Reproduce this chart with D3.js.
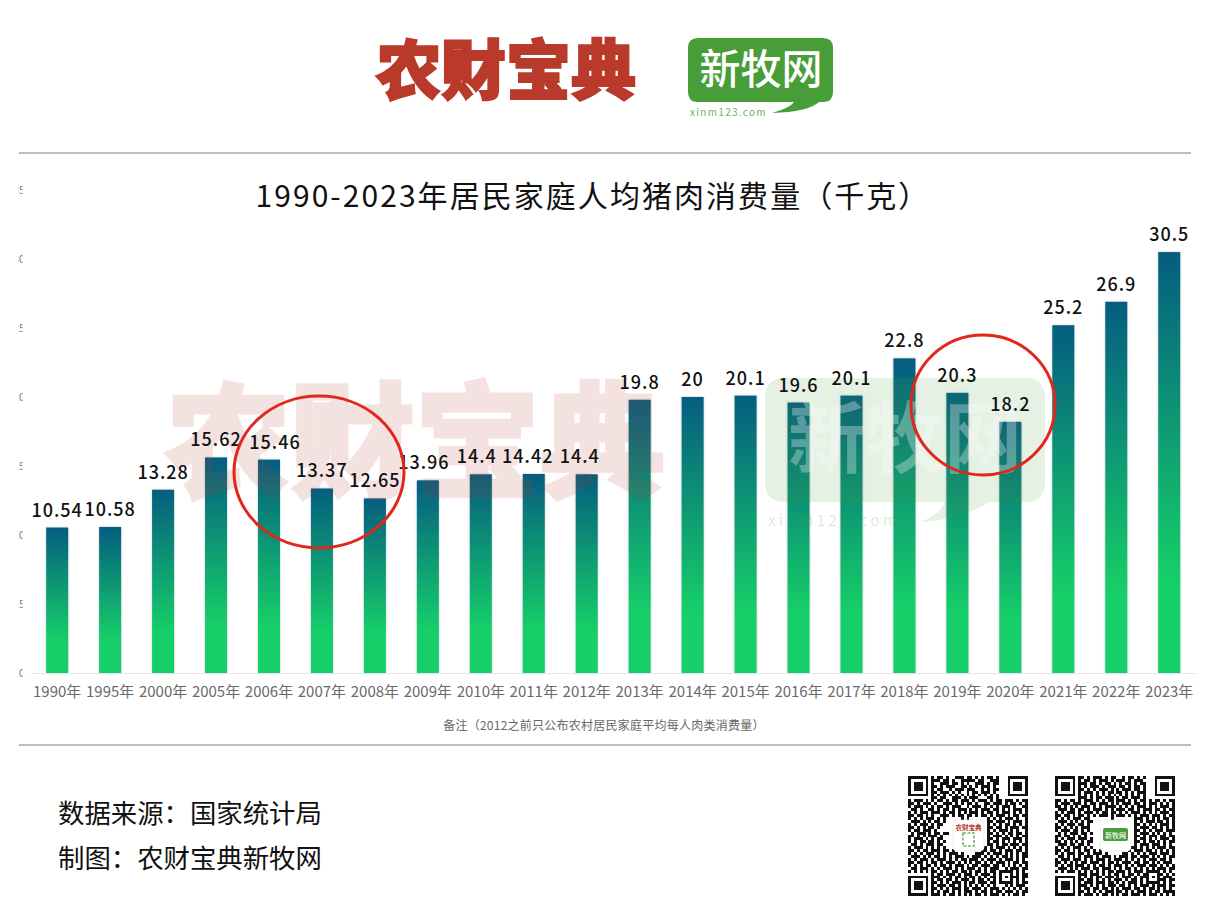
<!DOCTYPE html>
<html lang="zh">
<head>
<meta charset="utf-8">
<title>1990-2023年居民家庭人均猪肉消费量</title>
<script src="https://cdn.jsdelivr.net/npm/d3@7"></script>
<style>
    body { margin: 0; background: #fff; }
    svg { display: block; }
    text { font-family: "Noto Sans CJK SC", sans-serif; }
</style>
</head>
<body>
<svg id="svg"></svg>
<script>
let years = ["1990年", "1995年", "2000年", "2005年", "2006年", "2007年", "2008年", "2009年", "2010年", "2011年", "2012年",
    "2013年", "2014年", "2015年", "2016年", "2017年", "2018年", "2019年", "2020年", "2021年", "2022年", "2023年"];
let porkKg = [10.54, 10.58, 13.28, 15.62, 15.46, 13.37, 12.65, 13.96, 14.4, 14.42, 14.4,
    19.8, 20, 20.1, 19.6, 20.1, 22.8, 20.3, 18.2, 25.2, 26.9, 30.5];
let yTicks = [0, 5, 10, 15, 20, 25, 30, 35];

let chartTitle = "1990-2023年居民家庭人均猪肉消费量（千克）";
let footnote = "备注（2012之前只公布农村居民家庭平均每人肉类消费量）";
let sourceLines = ["数据来源：国家统计局", "制图：农财宝典新牧网"];

// the QR codes (finder squares are drawn on top)
let qrLeft = [
    "........#.##.#..###.##.#.#.##.#..........",
    "........###.##.#..#####.##..###..........",
    "........#..###.##.#.#..###.#.##..........",
    "........##.#.###..##.#.#.###.#...........",
    "........#.##..#.###.###..#.#.##..........",
    "........##.###.#.#..#.##.###.#...........",
    "........#.#.#.#.#.#.#.#.#.#.#.#..........",
    "........##.##..###.#.###...##.#..........",
    "#.###.#.#.##.#.##.###.#.###.#.##.###.#.##",
    "##.#.###.#..###.#.#.##.#..##.###.#.##.#.#",
    "#.###.#.#.##.#.###..#.###.#.#.#.###.#..##",
    ".##.#..##.#.##.#.###.#.#.###.##.#.#.###.#",
    "#.#.###.###.#.##.#.#.###.#.##.#.###.#.#.#",
    "##.##.#.#..###.#.##.##.#.##.#.###.#.##.##",
    "#.#.#.###.#.#.....#.#......#.#.#.###.#..#",
    ".###.#.#.##.#.........#....##.###.#.###.#",
    "#.#.###.#.##...........#...#.#.#.##.#.#.#",
    "##.#.#.##.#.............#..##.##.#.###.##",
    "#.##.###.#.................#.#.###.#.#..#",
    ".#.###.#.##.##.............##.#.#.##.##.#",
    "##.#.#.###.#...............#.###.#.#.#.##",
    "#.###.#.#.##...............##.#.###.###.#",
    "#.#.##.##.#.#..............#.##.#.#.#.#.#",
    ".##.#.###.##...............##.#.##.###.##",
    "#.###.#.#.#.#.............#.#.###.#.#.#.#",
    "##.#.##.###.##.#.........##.##.#.###.##.#",
    "#.#.#.###.#.#.###.#....###.#.###.#.#.#.##",
    ".###.#.#.##.#.#.###.#.###.#.#.#.##.#.#.##",
    "#.#.###.#.###.#.#.##.###.#.###.#.###.#.#.",
    "##.##.#.##.#.###.#.#.#.##.#.#.###.#.##.##",
    "#.#.#.##.#.##.#.###.#.##.###.##.#.#.#.#.#",
    ".##.###.#.#.###.#.#.###.#.#.###..#.###.##",
    "#.#.#.#.##.#.#.##.##.#.##.#.##.#####.#.#.",
    "........#.##.###.#.###.#.###.#.#...#.#.##",
    "........###.#.#.##.#.##.#.#.##.#.#.###.##",
    "........#.##.##.#.###.#.##.#.#.#...#.#.#.",
    "........##.#.#.###.#.##.###.##.#####.#.##",
    "........#.###.##.#.#.#.#.#.#.#...#.#.###.",
    "........##.#.#.###.##.###.#.###.#.#.#.#.#",
    "........#.#.##.#.#.###.#.##.#.##.###.#.##",
    "........###.#.##.#.#.#.##.#.###.#.#.##.#."
];
let qrRight = [
    "........##.#.###.#.##..#.##.#.#..........",
    "........#.##.#.###.#.###.#.###...........",
    "........###.##.#.##.#.#.##.#.##..........",
    "........#.#.###.#.###.##.#.##.#..........",
    "........##.#.#.###.#.#.###.##.#..........",
    "........#.###.#.#.##.##.#.#.###..........",
    "........#.#.#.#.#.#.#.#.#.#.#.#..........",
    "........###.#.##.###.#.##.###.#..........",
    "##.#.##.#.###.#.#.##.###.#.#.##.#.##.#.##",
    "#.###.###.#.##.###.#.#.###.##.#.###.#.#.#",
    "##.#.#.#.###.#.#.####.#.#.#.###.#.#.###.#",
    ".###.##.##.#.###.#.#.###.##.#.###.##.#.##",
    "#.#.###.#.###.#.##.##.#.#.###.#.#.#.###.#",
    "##.##.#.##.#.#.###.#.###.#.#.###.###.#.##",
    "#.#.#.###.##.......#.......###.#.#.#.##.#",
    ".###.#.#.#.##..............#.#.###.##.#.#",
    "#.#.###.##.#...............##.#.#.#.###.#",
    "##.#.#.#.###...............#.###.##.#.#.#",
    "#.###.##.#.#...............##.#.#.###.###",
    ".#.#.###.##.#..............#.###.#.#.#.#.",
    "##.##.#.#.#................##.#.###.##.##",
    "#.#.###.###.#..............#.##.#.#.###.#",
    "##.#.#.#.#.##..............##.#.##.#.#.##",
    ".###.##.##.#...............#.###.###.#.#.",
    "#.#.#.###.#.#.............##.#.#.#.###.##",
    "##.##.#.#.##.#.#.........#.###.##.#.#.#.#",
    "#.#.###.##.#.###.#.....##.#.#.#.###.###.#",
    ".##.#.#.#.###.#.###.#.###.##.###.#.#.#.##",
    "#.###.###.#.#.###.#.###.#.#.#.#.###.##.#.",
    "##.#.#.#.##.###.#.##.#.###.##.##.#.#.###.",
    "#.#.##.###.#.#.##.#.###.#.#.###.###.#.#.#",
    ".###.#.#.###.##.###.#.#.##.#.#.#.#.###.##",
    "#.#.###.#.#.#.#.#.##.###.#.###.#####.#.#.",
    "........###.###.#.#.##.#.##.#.##...##.#.#",
    "........#.#.#.##.###.#.###.#.###.#.#.###.",
    "........##.##.#.#.#.###.#.##.#.#...###.##",
    "........#.###.###.##.#.#.###.#.#####.#.#.",
    "........###.#.#.#.###.##.#.#.###.#.###.##",
    "........#.##.##.##.#.#.###.##.#.##.#.#.#.",
    "........##.#.#.#.###.##.#.#.###.#.##.####",
    "........#.###.#.##.#.#.##.###.#.###.#.#.#"
];

const width = 1209;
const height = 907;
const brandRed = "#b93a2b";
const brandGreen = "#479e38";

let svg = d3.select("#svg").attr("width", width).attr("height", height);
let defs = svg.append("defs");

let xScale = d3.scaleBand()
    .domain(years)
    .range([30.7, 1195.7])
    .paddingInner(0.585)
    .paddingOuter(0.2925);

let yScale = d3.scaleLinear()
    .domain([0, 35])
    .range([673, 190]);

function drawLogo() {
    svg.append("text")
        .attr("x", 506).attr("y", 94)
        .attr("text-anchor", "middle")
        .style("font-size", "65px").style("font-weight", 900)
        .attr("fill", brandRed).attr("stroke", brandRed).attr("stroke-width", 2)
        .text("农财宝典");

    svg.append("path")
        .attr("d", "M698,38 H823 Q833,38 833,48 V92 Q833,102 823,102 H819 Q808,112 772,113 Q790,108 794,102 H698 Q688,102 688,92 V48 Q688,38 698,38 Z")
        .attr("fill", brandGreen);
    svg.append("text")
        .attr("x", 761).attr("y", 84)
        .attr("text-anchor", "middle")
        .style("font-size", "41px").style("font-weight", 500)
        .attr("fill", "#fff")
        .text("新牧网");
    svg.append("text")
        .attr("x", 690).attr("y", 116)
        .style("font-size", "10px").style("letter-spacing", "1.3px")
        .attr("fill", "#6fae62")
        .text("xinm123.com");
}

function drawRules() {
    svg.selectAll(".rule")
        .data([153, 745])
        .enter()
        .append("line")
        .attr("class", "rule")
        .attr("x1", 19).attr("x2", 1191)
        .attr("y1", d => d).attr("y2", d => d)
        .attr("stroke", "#7d7d62")
        .attr("stroke-width", 1);
}

function drawAxes() {
    // only the last digit edge of the y labels survives in the picture
    defs.append("clipPath").attr("id", "tick-clip")
        .append("rect").attr("x", 18.5).attr("y", 170).attr("width", 4).attr("height", 520);

    let yAxis = svg.append("g")
        .attr("clip-path", "url(#tick-clip)")
        .append("g")
        .attr("transform", "translate(26,0)")
        .call(d3.axisLeft(yScale).tickValues(yTicks).tickSize(0).tickPadding(0));
    yAxis.select(".domain").remove();
    yAxis.selectAll("text")
        .style("font-size", "10px")
        .attr("x", -1.5)
        .attr("fill", "#777");

    let xAxis = svg.append("g")
        .attr("transform", "translate(0,673)")
        .call(d3.axisBottom(xScale).tickSize(0).tickPadding(13));
    xAxis.select(".domain").attr("stroke", "#e6e6e6");
    xAxis.selectAll("text")
        .style("font-size", "15px")
        .style("font-family", '"Noto Sans CJK SC", sans-serif')
        .attr("fill", "#6a6a6a");
}

function drawBars() {
    let gradient = defs.append("linearGradient")
        .attr("id", "bar-fill")
        .attr("x1", 0).attr("x2", 0).attr("y1", 0).attr("y2", 1);
    gradient.append("stop").attr("offset", "0%").attr("stop-color", "#055d80");
    gradient.append("stop").attr("offset", "78%").attr("stop-color", "#16cf68");
    gradient.append("stop").attr("offset", "100%").attr("stop-color", "#16cf68");

    svg.append("g")
        .selectAll("rect")
        .data(porkKg)
        .enter()
        .append("rect")
        .attr("x", (d, i) => xScale(years[i]))
        .attr("y", d => yScale(d))
        .attr("width", xScale.bandwidth())
        .attr("height", d => yScale(0) - yScale(d))
        .attr("fill", "url(#bar-fill)")
        .style("filter", "drop-shadow(0.5px 0 0.8px rgba(60,90,110,0.35))");
}

function drawBarLabels() {
    // hand moved labels in the original, sideways in px
    let nudge = { "2006年": 6, "2009年": -4, "2010年": -4, "2011年": -6, "2012年": -7 };

    svg.append("g")
        .selectAll("text")
        .data(porkKg)
        .enter()
        .append("text")
        .attr("x", (d, i) => xScale(years[i]) + xScale.bandwidth() / 2 + (nudge[years[i]] || 0))
        .attr("y", d => yScale(d) - 11)
        .attr("text-anchor", "middle")
        .style("font-size", "18px")
        .style("font-weight", 500)
        .style("letter-spacing", "1px")
        .attr("fill", "#111")
        .text(d => d);
}

function drawWatermark() {
    svg.append("text")
        .attr("x", 415).attr("y", 488)
        .attr("text-anchor", "middle")
        .style("font-size", "125px").style("font-weight", 900)
        .attr("fill", brandRed).attr("stroke", brandRed).attr("stroke-width", 3)
        .attr("opacity", 0.14)
        .text("农财宝典");

    svg.append("path")
        .attr("d", "M785,378 H1025 Q1045,378 1045,398 V482 Q1045,502 1025,502 H990 Q960,520 920,522 Q940,515 945,502 H785 Q765,502 765,482 V398 Q765,378 785,378 Z")
        .attr("fill", brandGreen)
        .attr("opacity", 0.14);
    svg.append("text")
        .attr("x", 905).attr("y", 467)
        .attr("text-anchor", "middle")
        .style("font-size", "78px").style("font-weight", 700)
        .attr("fill", "#fff")
        .attr("opacity", 0.3)
        .text("新牧网");
    svg.append("text")
        .attr("x", 768).attr("y", 526)
        .style("font-size", "15px").style("letter-spacing", "3.5px")
        .attr("fill", brandGreen)
        .attr("opacity", 0.2)
        .text("xinm123.com");
}

function drawCircles() {
    svg.selectAll(".callout")
        .data([[319, 472, 85, 76], [983, 405, 72, 70]])
        .enter()
        .append("ellipse")
        .attr("class", "callout")
        .attr("cx", d => d[0]).attr("cy", d => d[1])
        .attr("rx", d => d[2]).attr("ry", d => d[3])
        .attr("fill", "none")
        .attr("stroke", "#e1261c")
        .attr("stroke-width", 3);
}

function drawTexts() {
    svg.append("text")
        .attr("x", 593).attr("y", 207)
        .attr("text-anchor", "middle")
        .style("font-size", "30px")
        .style("font-weight", 400)
        .style("letter-spacing", "2.05px")
        .attr("fill", "#111")
        .text(chartTitle);

    svg.append("text")
        .attr("x", 604).attr("y", 730)
        .attr("text-anchor", "middle")
        .style("font-size", "12px")
        .style("letter-spacing", "0.25px")
        .attr("fill", "#666")
        .text(footnote);

    svg.selectAll(".source")
        .data(sourceLines)
        .enter()
        .append("text")
        .attr("class", "source")
        .attr("x", 58)
        .attr("y", (d, i) => 823 + i * 45)
        .style("font-size", "26.4px")
        .style("font-weight", 400)
        .attr("fill", "#111")
        .text(d => d);
}

function drawQr(rows, x0, drawBadge) {
    let size = 120;
    let cell = d3.scaleBand().domain(d3.range(41)).range([0, size]);
    let qr = svg.append("g").attr("transform", `translate(${x0},776)`)
        .attr("shape-rendering", "crispEdges");

    rows.forEach((row, r) => {
        row.split("").forEach((c, col) => {
            if (c === "#" && col < 41) {
                qr.append("rect")
                    .attr("x", cell(col)).attr("y", cell(r))
                    .attr("width", cell.bandwidth()).attr("height", cell.bandwidth())
                    .attr("fill", "#111");
            }
        });
    });

    let finders = [[0, 0], [34, 0], [0, 34]];
    finders.forEach(([cx, cy]) => {
        [[7, "#111"], [5, "#fff"], [3, "#111"]].forEach(([n, fill]) => {
            let inset = (7 - n) / 2;
            qr.append("rect")
                .attr("x", cell(cx) + inset * cell.bandwidth())
                .attr("y", cell(cy) + inset * cell.bandwidth())
                .attr("width", n * cell.bandwidth())
                .attr("height", n * cell.bandwidth())
                .attr("fill", fill);
        });
    });

    let badge = svg.append("g").attr("transform", `translate(${x0 + 45},${776 + 44})`);
    badge.append("rect")
        .attr("width", 31).attr("height", 31).attr("rx", 4)
        .attr("fill", "#fff").attr("stroke", "#e4e4e4").attr("stroke-width", 0.6);
    drawBadge(badge);
}

function redBadge(badge) {
    badge.append("text")
        .attr("x", 15.5).attr("y", 10)
        .attr("text-anchor", "middle")
        .style("font-size", "6.5px").style("font-weight", 700)
        .attr("fill", brandRed)
        .text("农财宝典");
    // small green emblem under the name, too blurred to read
    badge.append("rect")
        .attr("x", 10).attr("y", 13).attr("width", 11).attr("height", 13)
        .attr("fill", "none").attr("stroke", "#6fb75f").attr("stroke-width", 1.6)
        .attr("stroke-dasharray", "3 1.5");
}

function greenBadge(badge) {
    badge.append("rect")
        .attr("x", 3).attr("y", 8).attr("width", 25).attr("height", 13).attr("rx", 2)
        .attr("fill", brandGreen);
    badge.append("text")
        .attr("x", 15.5).attr("y", 17.5)
        .attr("text-anchor", "middle")
        .style("font-size", "7px").style("font-weight", 500)
        .attr("fill", "#fff")
        .text("新牧网");
}

drawLogo();
drawRules();
drawBars();
drawAxes();
drawWatermark();
drawBarLabels();
drawCircles();
drawTexts();
drawQr(qrLeft, 908, redBadge);
drawQr(qrRight, 1055, greenBadge);
</script>
</body>
</html>
